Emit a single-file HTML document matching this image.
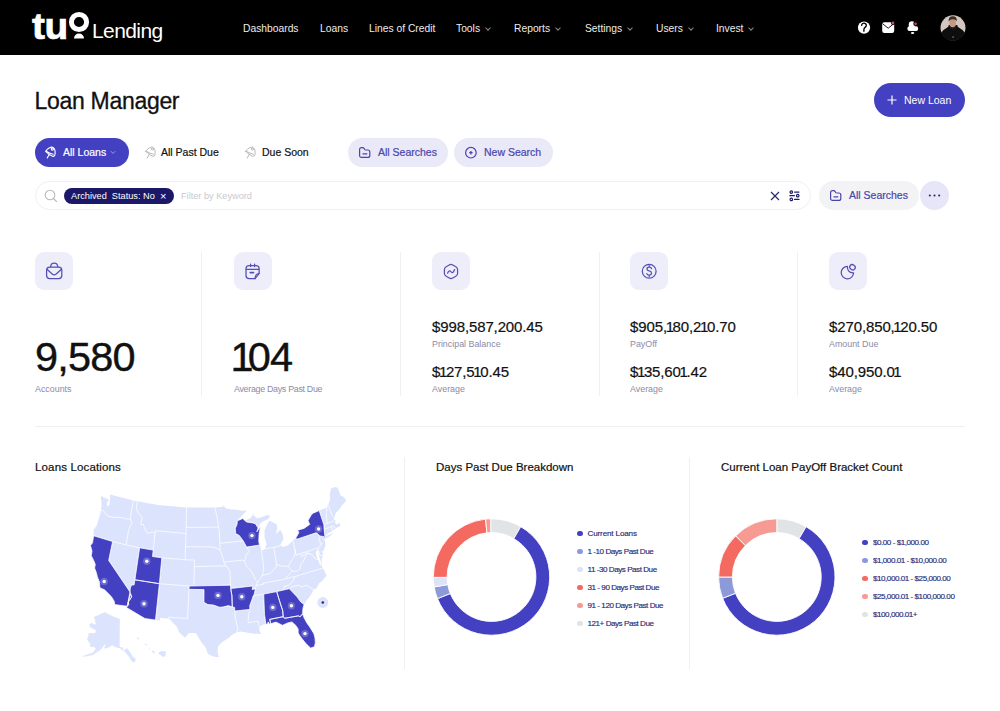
<!DOCTYPE html>
<html><head><meta charset="utf-8">
<style>
*{margin:0;padding:0;box-sizing:border-box}
html,body{width:1000px;height:711px;overflow:hidden;background:#fff;font-family:"Liberation Sans",Arial,sans-serif;color:#111}
.a{position:absolute;white-space:nowrap}
#hdr{position:absolute;left:0;top:0;width:1000px;height:55px;background:#000}
.nav{position:absolute;top:22px;font-size:10.3px;color:#ececec;line-height:14px}
.chev{display:inline-block;width:4px;height:4px;border-right:1px solid #888;border-bottom:1px solid #888;transform:rotate(45deg);margin-left:6px;position:relative;top:-2px}
.pill{position:absolute;border-radius:15px;font-size:10.5px;line-height:29px;height:29px;-webkit-text-stroke:0.2px currentColor}
.sicon{position:absolute;width:38px;height:38px;border-radius:9px;background:#eeedfa}
.sicon svg{position:absolute;left:0;top:0}
.big{position:absolute;font-size:41.5px;letter-spacing:-0.8px;color:#111;-webkit-text-stroke:0.4px #111;line-height:40px}
.amt{position:absolute;font-size:15px;color:#111;-webkit-text-stroke:0.2px #111;line-height:16px;letter-spacing:-0.12px}
.o{margin:0 -1.3px}
.o2{margin:0 -5px 0 -1.5px}
.lbl{position:absolute;font-size:8.9px;color:#8c8aa8;line-height:10px}
.vdiv{position:absolute;width:1px;background:#f0f0f3}
.ctitle{position:absolute;font-size:11.5px;color:#111;-webkit-text-stroke:0.2px #111;line-height:14px}
.lg{position:absolute;font-size:8.1px;color:#2b2870;line-height:11px;letter-spacing:-0.47px;-webkit-text-stroke:0.15px #2b2870}
.lg i{position:absolute;left:-10.6px;top:2.7px;width:5.6px;height:5.6px;border-radius:50%}
</style></head><body>
<div id="hdr">
  <!-- logo -->
  <div class="a" style="left:31.5px;top:6.5px;font-size:37px;font-weight:bold;color:#fff;letter-spacing:-0.3px;line-height:40px;transform:scaleX(1.05);transform-origin:0 0;-webkit-text-stroke:0.7px #fff">tu</div>
  <svg class="a" style="left:68px;top:11px" width="22" height="29" viewBox="0 0 22 29">
    <circle cx="11" cy="11" r="7.6" fill="none" stroke="#fff" stroke-width="5"/>
    <path d="M6,27.6 A5,5 0 0 1 16,27.6 Z" fill="#fff"/>
  </svg>
  <div class="a" style="left:92px;top:18px;font-size:21px;color:#fff;letter-spacing:-0.6px;line-height:26px">Lending</div>
  <div class="nav" style="left:243px">Dashboards</div>
  <div class="nav" style="left:320px">Loans</div>
  <div class="nav" style="left:369px">Lines of Credit</div>
  <div class="nav" style="left:456px">Tools<span class="chev"></span></div>
  <div class="nav" style="left:514px">Reports<span class="chev"></span></div>
  <div class="nav" style="left:585px">Settings<span class="chev"></span></div>
  <div class="nav" style="left:656px">Users<span class="chev"></span></div>
  <div class="nav" style="left:716px">Invest<span class="chev"></span></div>
  <!-- icons -->
  <svg class="a" style="left:850px;top:15px" width="80" height="25" viewBox="850 15 80 25">
    <circle cx="864" cy="27.6" r="6.1" fill="#fff"/>
    <path d="M861.7,25.4 A2.3,2.2 0 1 1 865.6,26.9 C864.4,27.7 863.9,28.2 863.9,29.4 L863.9,31.2" fill="none" stroke="#000" stroke-width="1.35" stroke-linecap="round"/>
    <rect x="882.2" y="22.2" width="12" height="10.8" rx="2.2" fill="#fff"/>
    <path d="M882.7,23.8 L888.2,28.2 L893.6,23.8" fill="none" stroke="#000" stroke-width="0.9" stroke-linejoin="round"/>
    <circle cx="893" cy="22.9" r="2" fill="#000"/><circle cx="893" cy="22.9" r="1.3" fill="#e0467a"/>
    <rect x="908.8" y="21.3" width="6.2" height="7" rx="3" fill="#fff"/>
    <rect x="907.4" y="26.2" width="10.7" height="4.7" rx="2" fill="#fff"/>
    <ellipse cx="912.6" cy="33" rx="1.7" ry="0.9" fill="#fff"/>
    <circle cx="915.6" cy="23.8" r="2.3" fill="#000"/><circle cx="915.6" cy="23.8" r="1.4" fill="#d8366a"/>
  </svg>
  <svg class="a" style="left:938px;top:13px" width="30" height="30" viewBox="938 13 30 30">
    <defs><clipPath id="avc"><circle cx="953" cy="27.8" r="13"/></clipPath></defs>
    <circle cx="953" cy="27.8" r="12.5" fill="#d3c7c1"/>
    <g clip-path="url(#avc)">
      <path d="M940,34 Q943,29.5 948,27 L949,25 L957,25 L958,27 Q963,29.5 966,34 L966,43 L940,43 Z" fill="#0e0e0e"/>
      <path d="M948.5,25.5 L957.5,25.5 L955.5,29.5 L950.5,29.5 Z" fill="#1c1a19"/>
      <ellipse cx="952.7" cy="23" rx="3.3" ry="4.3" fill="#c39a84"/>
      <path d="M948.6,21.5 Q948.3,16.3 952.8,16.3 Q957.2,16.3 956.8,21.2 Q955.5,19 952.6,19.2 Q950,19.3 948.6,21.5 Z" fill="#3e2b23"/>
      <rect x="952.4" y="36.4" width="1.3" height="1.3" fill="#888"/>
    </g>
  </svg>
</div>

<div class="a" style="left:34.5px;top:86.5px;font-size:23px;color:#111;line-height:28px;letter-spacing:-0.3px;-webkit-text-stroke:0.3px #111">Loan Manager</div>
<div class="a" style="left:874px;top:83px;width:91px;height:34px;border-radius:17px;background:#4341c2;color:#fff;font-size:10.5px;line-height:34px">
  <svg class="a" style="left:13px;top:12px" width="10" height="10" viewBox="0 0 10 10"><path d="M5,0.5V9.5M0.5,5H9.5" stroke="#fff" stroke-width="1.2"/></svg>
  <span class="a" style="left:30px">New Loan</span>
</div>

<!-- filter row -->
<div class="pill" style="left:35px;top:138px;width:94px;background:#4341c2;color:#fff">
  <span class="a" style="left:28px">All Loans</span>
  <svg class="a" style="left:75px;top:12px" width="6" height="5" viewBox="0 0 6 5"><path d="M0.8,1.2 L3,3.4 L5.2,1.2" fill="none" stroke="#a9a6ea" stroke-width="0.9"/></svg>
</div>
<svg class="a" style="left:40px;top:142px" width="20" height="20" viewBox="0 0 20 20"><g fill="none" stroke="#fff" stroke-width="1.15" stroke-linejoin="round" stroke-linecap="round"><path d="M5.6,9.3 Q7.5,6.8 9.5,5.8 Q11.5,4.8 12.6,5.2 Q14.6,6 15,8.5 Q15.3,11 14.9,12.9 Q14.3,14.8 12.6,14.3 Q9,12.6 5.6,9.3 Z"/><path d="M6.6,9.4 Q10,11.6 13.3,12.2"/><circle cx="12.4" cy="7" r="1.1"/><path d="M9.3,12.4 L7.2,16"/></g></svg>
<div class="a" style="left:161px;top:138px;font-size:10.5px;line-height:29px;color:#111;-webkit-text-stroke:0.2px #111">All Past Due</div>
<svg class="a" style="left:140px;top:142px" width="20" height="20" viewBox="0 0 20 20"><g fill="none" stroke="#b9b9bd" stroke-width="1.0" stroke-linejoin="round" stroke-linecap="round"><path d="M5.6,9.3 Q7.5,6.8 9.5,5.8 Q11.5,4.8 12.6,5.2 Q14.6,6 15,8.5 Q15.3,11 14.9,12.9 Q14.3,14.8 12.6,14.3 Q9,12.6 5.6,9.3 Z"/><path d="M6.6,9.4 Q10,11.6 13.3,12.2"/><circle cx="12.4" cy="7" r="1.1"/><path d="M9.3,12.4 L7.2,16"/></g></svg>
<div class="a" style="left:262px;top:138px;font-size:10.5px;line-height:29px;color:#111;-webkit-text-stroke:0.2px #111">Due Soon</div>
<svg class="a" style="left:240px;top:142px" width="20" height="20" viewBox="0 0 20 20"><g fill="none" stroke="#b9b9bd" stroke-width="1.0" stroke-linejoin="round" stroke-linecap="round"><path d="M5.6,9.3 Q7.5,6.8 9.5,5.8 Q11.5,4.8 12.6,5.2 Q14.6,6 15,8.5 Q15.3,11 14.9,12.9 Q14.3,14.8 12.6,14.3 Q9,12.6 5.6,9.3 Z"/><path d="M6.6,9.4 Q10,11.6 13.3,12.2"/><circle cx="12.4" cy="7" r="1.1"/><path d="M9.3,12.4 L7.2,16"/></g></svg>
<div class="pill" style="left:348px;top:138px;width:100px;background:#e9e9f7;color:#4a45ad">
  <svg class="a" style="left:10px;top:8px" width="14" height="14" viewBox="0 0 14 14"><g fill="none" stroke="#4a45ad" stroke-width="1.2" stroke-linejoin="round" stroke-linecap="round"><path d="M1.6,3.6 Q1.6,1.6 3.6,1.6 L4.6,1.6 Q5.5,1.6 6,2.4 L6.5,3.2 Q7,4 7.9,4 L9.8,4 Q11.8,4 11.8,6 L11.8,9.4 Q11.8,11.4 9.8,11.4 L3.6,11.4 Q1.6,11.4 1.6,9.4 Z"/><path d="M5,7.85 H8.8" stroke-width="1.4"/></g></svg>
  <span class="a" style="left:30px">All Searches</span>
</div>
<div class="pill" style="left:454px;top:138px;width:99px;background:#e9e9f7;color:#4a45ad">
  <svg class="a" style="left:10px;top:8px" width="14" height="14" viewBox="0 0 14 14"><circle cx="6.9" cy="6.7" r="5.3" fill="none" stroke="#4a45ad" stroke-width="1.2"/><path d="M5.2,6.7 H8.6 M6.9,5 V8.4" stroke="#4a45ad" stroke-width="1.3"/></svg>
  <span class="a" style="left:30px">New Search</span>
</div>

<!-- search row -->
<div class="a" style="left:35px;top:181px;width:776px;height:29px;border-radius:15px;border:1px solid #f0f0f3;background:#fff"></div>
<svg class="a" style="left:44px;top:189px" width="14" height="14" viewBox="0 0 14 14"><circle cx="6" cy="6" r="4.8" fill="none" stroke="#b8b8bc" stroke-width="1.1"/><path d="M9.5,9.5 L12.5,12.5" stroke="#b8b8bc" stroke-width="1.1" stroke-linecap="round"/></svg>
<div class="a" style="left:64px;top:188px;width:110px;height:16px;border-radius:8px;background:#1b1868;color:#fff;font-size:9.2px;line-height:16px;padding-left:7px">Archived&nbsp; Status: No<span class="a" style="left:96px;top:0;font-size:11px">×</span></div>
<div class="a" style="left:181px;top:190px;font-size:9.2px;color:#c9c9cf;line-height:12px">Filter by Keyword</div>
<svg class="a" style="left:770px;top:191px" width="10" height="10" viewBox="0 0 10 10"><path d="M1,1 L9,9 M9,1 L1,9" stroke="#2a2870" stroke-width="1.2"/></svg>
<svg class="a" style="left:788px;top:189px" width="13" height="13" viewBox="0 0 13 13"><g stroke="#1f1c66" stroke-width="1.2" fill="none" stroke-linecap="round"><path d="M6.6,3.1 H11 M1.9,6.7 H6.4 M6.6,10.4 H11"/><circle cx="3.3" cy="3.1" r="1.25"/><circle cx="9.7" cy="6.7" r="1.25"/><circle cx="3.3" cy="10.4" r="1.25"/></g></svg>
<div class="pill" style="left:819px;top:181px;width:100px;background:#f3f3f6;color:#4a45ad">
  <svg class="a" style="left:10px;top:8px" width="14" height="14" viewBox="0 0 14 14"><g fill="none" stroke="#4a45ad" stroke-width="1.2" stroke-linejoin="round" stroke-linecap="round"><path d="M1.6,3.6 Q1.6,1.6 3.6,1.6 L4.6,1.6 Q5.5,1.6 6,2.4 L6.5,3.2 Q7,4 7.9,4 L9.8,4 Q11.8,4 11.8,6 L11.8,9.4 Q11.8,11.4 9.8,11.4 L3.6,11.4 Q1.6,11.4 1.6,9.4 Z"/><path d="M5,7.85 H8.8" stroke-width="1.4"/></g></svg>
  <span class="a" style="left:30px">All Searches</span>
</div>
<div class="a" style="left:920px;top:181px;width:29px;height:29px;border-radius:50%;background:#e7e6f8">
  <svg class="a" style="left:8px;top:13px" width="13" height="3" viewBox="0 0 13 3"><circle cx="1.8" cy="1.5" r="1.05" fill="#2a2870"/><circle cx="6.5" cy="1.5" r="1.05" fill="#2a2870"/><circle cx="11.2" cy="1.5" r="1.05" fill="#2a2870"/></svg>
</div>

<!-- STATS -->
<div class="sicon" style="left:35px;top:252px"><svg width="38" height="38" viewBox="0 0 38 38"><g fill="none" stroke="#5550b4" stroke-width="1.25" stroke-linejoin="round" stroke-linecap="round"><path d="M11.6,18.2 Q11.6,15 14.5,15 L23.8,15 Q26.8,15 26.8,18.2 L26.8,23.5 Q26.8,26.5 23.8,26.5 L14.6,26.5 Q11.6,26.5 11.6,23.5 Z"/><path d="M12,17.3 L17.2,22 Q19.2,23.6 21.2,22 L26.4,17.3"/><path d="M15.6,15 Q15.8,11.1 19.2,11.1 Q22.6,11.1 22.8,15"/></g></svg></div>
<div class="sicon" style="left:234px;top:252px"><svg width="38" height="38" viewBox="0 0 38 38"><g fill="none" stroke="#5550b4" stroke-width="1.25" stroke-linejoin="round" stroke-linecap="round"><path d="M25.1,21.5 L25.1,16.6 Q25.1,13.5 22,13.5 L15.1,13.5 Q12,13.5 12,16.6 L12,23.6 Q12,26.7 15.1,26.7 L21,26.7 Z"/><path d="M16.6,12 V14.6 M20.6,12 V14.6 M12.3,17.4 H24.8"/><path d="M16.2,20.6 H19.6" stroke-width="1.6"/><path d="M25.1,21.5 Q21,22 21,26.7"/></g></svg></div>
<div class="sicon" style="left:432px;top:252px"><svg width="38" height="38" viewBox="0 0 38 38"><g fill="none" stroke="#5550b4" stroke-width="1.25" stroke-linejoin="round" stroke-linecap="round"><path d="M17.26,12.98 Q19.00,12.00 20.74,12.98 L23.86,14.72 Q25.60,15.70 25.60,17.70 L25.60,21.30 Q25.60,23.30 23.86,24.28 L20.74,26.02 Q19.00,27.00 17.26,26.02 L14.14,24.28 Q12.40,23.30 12.40,21.30 L12.40,17.70 Q12.40,15.70 14.14,14.72 Z"/><path d="M15.6,21.2 Q16.5,18.6 17.7,18.8 Q18.6,19 19.4,20.2 Q20.3,21.2 21.2,20.2 L22.6,17.6"/></g></svg></div>
<div class="sicon" style="left:630px;top:252px"><svg width="38" height="38" viewBox="0 0 38 38"><g fill="none" stroke="#5550b4" stroke-width="1.25" stroke-linejoin="round" stroke-linecap="round"><circle cx="19.2" cy="19.2" r="6.9"/><path d="M21.6,16.6 Q21.2,15.1 19.2,15.1 Q17,15.1 17,16.9 Q17,18.4 19.2,18.9 Q21.5,19.4 21.5,21.2 Q21.5,23 19.2,23 Q17.2,23 16.8,21.6 M19.2,13.7 V15.1 M19.2,23 V24.6"/></g></svg></div>
<div class="sicon" style="left:829px;top:252px"><svg width="38" height="38" viewBox="0 0 38 38"><g fill="none" stroke="#5550b4" stroke-width="1.25" stroke-linejoin="round" stroke-linecap="round"><path d="M18.4,14.4 A6.2,6.2 0 1 0 24.6,20.8 Q21,21 19.6,18.8 Q18.2,16.8 18.4,14.4 Z"/><ellipse cx="23.5" cy="15.3" rx="2.9" ry="2.5" transform="rotate(35 23.5 15.3)"/></g></svg></div>

<div class="big" style="left:35px;top:337px">9,580</div>
<div class="lbl" style="left:35px;top:384px">Accounts</div>
<div class="big" style="left:232px;top:337px"><span class="o2">1</span>04</div>
<div class="lbl" style="left:234px;top:384px;letter-spacing:-0.3px">Average Days Past Due</div>

<div class="amt" style="left:432px;top:319px">$998,587,200.45</div>
<div class="lbl" style="left:432px;top:339px">Principal Balance</div>
<div class="amt" style="left:432px;top:364px">$<span class="o">1</span>27,5<span class="o">1</span>0.45</div>
<div class="lbl" style="left:432px;top:384px">Average</div>

<div class="amt" style="left:630px;top:319px">$905,<span class="o">1</span>80,2<span class="o">1</span>0.70</div>
<div class="lbl" style="left:630px;top:339px">PayOff</div>
<div class="amt" style="left:630px;top:364px">$<span class="o">1</span>35,60<span class="o">1</span>.42</div>
<div class="lbl" style="left:630px;top:384px">Average</div>

<div class="amt" style="left:829px;top:319px">$270,850,<span class="o">1</span>20.50</div>
<div class="lbl" style="left:829px;top:339px">Amount Due</div>
<div class="amt" style="left:829px;top:364px">$40,950.0<span class="o">1</span></div>
<div class="lbl" style="left:829px;top:384px">Average</div>

<div class="vdiv" style="left:201px;top:252px;height:144px"></div>
<div class="vdiv" style="left:400px;top:252px;height:144px"></div>
<div class="vdiv" style="left:599px;top:252px;height:144px"></div>
<div class="vdiv" style="left:797px;top:252px;height:144px"></div>
<div class="a" style="left:35px;top:426px;width:930px;height:1px;background:#efeff2"></div>


<!-- CHARTS -->
<div class="ctitle" style="left:35px;top:460px;letter-spacing:0.15px">Loans Locations</div>
<div class="ctitle" style="left:436px;top:460px">Days Past Due Breakdown</div>
<div class="ctitle" style="left:721px;top:460px">Current Loan PayOff Bracket Count</div>
<div class="vdiv" style="left:404px;top:457px;height:212px"></div>
<div class="vdiv" style="left:689px;top:457px;height:212px"></div>
<!--MAP--><svg class="a" style="left:0;top:0" width="1000" height="711" viewBox="0 0 1000 711">
<path d="M101.2,495.7L100.9,498.1L101.4,501.6L101.6,505.6L100.9,509.7L100.2,514.5L98.4,519.9L96.7,525.4L93.6,530.0L93.8,535.8L93.1,538.9L92.6,542.8L90.5,545.4L92.0,551.2L91.3,555.7L93.7,560.5L95.3,564.4L94.6,568.1L96.4,572.7L97.4,577.0L99.6,582.3L99.8,587.0L100.4,588.1L104.5,589.7L108.0,593.2L109.7,595.0L111.5,596.8L114.3,601.4L114.6,604.6L127.2,606.2L126.5,607.6L144.9,618.5L155.5,620.1L160.0,620.6L160.3,617.7L169.1,618.7L171.7,621.4L176.7,626.6L179.0,632.2L185.2,637.7L188.7,633.0L195.8,633.1L201.5,642.6L205.8,647.7L207.9,654.0L214.1,656.8L218.9,657.3L217.5,651.9L218.1,646.2L221.9,642.2L228.5,638.0L232.2,634.8L236.8,632.2L240.3,631.4L245.2,632.3L250.8,633.3L256.9,633.8L261.3,634.1L259.4,630.8L259.5,626.4L262.7,624.8L265.9,624.1L267.5,624.3L268.1,621.9L269.4,624.0L270.7,623.7L276.0,622.1L282.5,625.3L287.7,622.9L292.0,621.9L295.9,625.5L298.1,628.9L298.2,632.8L299.8,635.7L302.7,639.5L305.7,643.3L310.6,648.1L314.5,646.7L315.3,642.6L315.0,638.1L313.9,633.8L309.8,627.1L306.7,622.7L304.2,618.1L302.6,613.9L302.9,608.5L304.1,604.5L306.4,600.8L311.1,594.7L313.5,589.6L316.7,588.2L318.8,583.4L322.5,580.8L326.6,575.6L323.0,568.0L321.6,566.1L321.7,559.1L323.4,554.7L322.6,552.6L320.7,551.2L323.1,551.5L325.6,545.2L324.8,540.3L324.3,539.4L325.4,539.0L330.9,535.4L333.0,532.6L329.6,534.6L325.3,536.2L328.2,533.3L332.7,531.0L334.5,529.3L335.6,528.4L337.6,527.2L340.4,526.0L339.6,522.8L336.9,524.4L334.9,522.8L335.6,520.3L334.2,519.4L334.3,517.9L335.3,513.7L339.6,508.9L342.1,505.2L345.6,501.3L346.2,499.8L342.4,496.0L340.8,496.1L337.7,487.8L335.1,487.1L331.9,487.9L331.2,488.2L329.7,494.3L330.1,499.7L328.2,504.8L327.0,507.4L319.2,510.6L313.6,512.9L311.3,514.8L308.1,520.5L309.7,524.4L304.0,528.4L297.6,530.2L298.9,532.5L296.0,537.7L292.9,540.6L288.2,545.2L283.8,546.7L280.0,545.8L281.2,543.3L283.3,539.0L283.1,536.4L282.0,532.6L280.1,530.0L275.8,534.2L277.2,529.1L276.8,524.5L269.9,520.8L268.7,521.7L266.6,525.5L264.5,530.6L264.6,537.3L266.6,544.3L264.7,548.9L263.0,550.3L261.4,550.0L260.9,548.7L259.5,545.0L258.8,541.8L258.9,537.1L259.2,533.0L260.5,526.4L258.5,529.5L256.8,531.8L258.1,527.9L260.1,523.5L262.9,521.6L268.2,519.1L270.3,515.9L267.5,514.9L263.0,516.6L257.6,518.6L254.7,516.5L252.6,513.6L254.2,513.0L250.6,517.9L244.8,520.4L242.8,518.5L238.3,520.4L237.4,520.2L241.7,516.0L247.0,510.5L242.0,510.7L236.8,509.7L229.2,509.2L225.4,508.3L223.2,504.4L223.4,506.8L214.8,507.4L186.6,507.5L157.9,504.9L137.2,501.3L133.2,500.5L110.0,494.4L110.1,499.0L109.2,505.4L106.9,506.0L107.1,502.7L109.0,500.0L107.1,498.8L103.9,497.7L101.2,495.7Z" fill="#dce4fd"/>
<path d="M119.8,619.0L119.6,646.7L122.3,647.6L124.4,650.5L126.8,648.0L129.9,651.8L133.0,657.1L135.4,658.5L135.6,660.3L134.4,662.3L132.1,661.7L129.5,657.6L127.3,654.8L125.8,652.8L123.0,650.2L120.3,648.5L116.8,647.5L114.1,646.4L112.1,645.1L109.9,646.9L106.9,648.0L104.2,648.4L105.5,644.1L107.6,643.0L104.6,644.6L102.7,647.2L100.7,649.8L97.2,652.0L92.5,655.3L89.0,655.8L85.5,656.4L81.9,656.6L85.0,655.3L88.7,654.1L93.2,652.4L95.8,648.6L94.6,647.3L91.6,647.0L89.5,646.5L90.4,643.7L88.2,641.3L87.0,639.2L88.4,636.6L88.4,633.4L91.1,632.9L95.1,632.9L95.9,630.3L93.7,629.2L90.0,627.0L89.2,623.8L92.1,623.2L95.8,624.7L95.4,621.7L94.5,618.5L93.6,617.0L98.3,615.3L100.9,613.8L105.5,612.0L107.3,613.8L109.6,614.6L112.2,615.9L116.0,617.5Z" fill="#dce4fd"/>
<path d="" fill="none" stroke="#dce4fd" stroke-width="1.2"/>
<path d="M158.0,653.3L163.1,657.0L165.5,656.0L165.8,651.2L160.6,651.2ZM151.7,650.9L154.6,654.2L154.8,651.5L152.6,650.5ZM148.8,648.2L150.6,651.4L149.4,648.0ZM144.1,643.8L147.3,646.3L146.3,644.1ZM136.9,637.3L138.1,640.0L139.4,638.1Z" fill="#dce4fd"/>
<path d="M321.5,565.7L319.4,564.1L318.3,559.7L316.4,556.2L315.9,552.3L317.3,549.7L318.7,551.3L318.7,555.4L320.3,559.6L321.1,564.2Z" fill="#fff"/>
<path d="M100.9,509.7L104.3,511.5L105.6,513.6L107.8,516.2L112.1,517.1L115.1,517.6L119.2,517.3L121.8,517.8L130.7,519.6M133.2,500.5L130.6,516.7L130.7,519.6M130.7,519.6L132.0,523.2L130.2,526.1L128.6,530.3L128.0,533.5L126.0,544.9M93.8,535.8L112.6,541.5L126.0,544.9L139.6,547.8L153.2,550.1M112.6,541.5L108.7,560.4L130.0,591.9M134.9,579.8L139.6,547.8M134.9,579.8L159.4,583.7L189.2,586.1L193.9,586.2L230.5,585.2M159.4,583.7L155.5,620.1M159.4,583.7L161.8,557.8M161.8,557.8L152.5,556.5L153.2,550.1M153.2,550.1L154.9,533.9L153.6,532.1L147.2,533.3L144.6,528.3L143.4,524.5L140.7,524.6L142.1,517.7L138.0,512.6L136.3,507.8L137.2,501.3M154.9,533.9L155.3,530.7L186.0,533.6M161.8,557.8L185.1,559.7L194.4,560.1M186.6,507.5L186.0,533.6L185.1,559.7M194.4,560.1L194.3,566.6L193.9,586.2M189.2,586.1L189.0,589.3L187.5,618.5L168.8,617.2L169.1,618.7M189.0,589.3L204.0,589.6L203.9,602.3L207.9,604.6L213.6,605.1L219.3,607.2L222.9,607.0L228.5,605.6L232.3,607.0M230.5,585.2L230.7,588.5L231.9,595.6L232.3,607.0M186.1,527.4L218.6,527.2M185.6,546.7L210.7,546.9L215.3,547.7L219.5,549.8L220.2,549.8M194.3,566.6L226.2,565.8M214.8,507.4L217.1,517.1L218.6,527.2L219.3,531.4L219.9,543.2L220.2,549.8M219.9,543.2L243.3,540.9M220.2,549.8L222.0,555.6L223.4,559.4L223.9,562.1L226.2,565.8L229.9,571.1L230.5,585.2M223.9,562.1L242.8,560.1L244.5,561.3M237.4,520.2L237.0,524.5L235.3,528.3L235.6,533.6L239.3,535.5L243.3,540.9M243.3,540.9L246.6,547.1L249.3,551.3L246.2,554.5L245.6,558.2L244.5,561.3L246.8,566.3L251.2,571.0L254.2,576.8L255.6,580.3L257.5,581.9M246.6,547.1L259.5,545.0M244.8,520.4L246.3,521.9L252.5,522.9L255.3,523.7L258.1,527.9M261.4,550.0L263.5,565.3L263.7,569.6L262.6,574.4L262.0,575.9M257.5,581.9L260.6,578.4L262.0,575.9L264.8,574.7L269.7,573.8L272.7,570.8L276.9,566.2L276.5,564.3L282.4,566.3L287.9,566.2M257.5,581.9L256.1,585.5L255.4,588.9M255.4,588.9L252.1,589.4L252.9,586.0L230.7,588.5M255.4,588.9L254.0,595.0L253.1,595.9L251.9,599.9L249.8,605.5L249.8,609.4L248.6,614.7L248.2,619.4L248.2,622.6M249.8,609.4L234.8,611.0M234.8,611.0L234.6,607.4L232.3,607.0M234.8,611.0L235.1,617.5L236.7,623.8L237.9,628.2L236.8,632.2M248.2,622.6L258.4,621.2L258.5,624.5L259.5,626.4M263.7,594.1L264.5,614.4L265.9,624.1M253.1,595.9L263.7,594.1L276.7,591.6L283.3,590.2L289.3,588.7M276.7,591.6L280.8,605.0L282.6,610.2L283.2,616.7M283.2,616.7L269.7,619.4L270.7,623.7M283.2,616.7L284.6,618.3L298.7,615.8L299.8,617.0L302.6,613.9M289.3,588.7L292.4,591.9L297.0,596.8L300.6,601.8L304.1,604.5M289.3,588.7L293.0,586.4L299.3,585.1L300.2,585.8L301.0,586.9L306.5,585.3L313.5,589.6M256.1,585.5L263.3,584.3L262.9,583.2L284.6,579.2L294.5,576.7M283.3,590.2L284.2,586.6L288.7,585.2L293.5,580.3L294.5,576.7M294.5,576.7L323.0,568.0M284.6,579.2L288.0,575.6L292.0,571.2L287.9,566.2M273.8,547.4L276.5,564.3M264.7,548.9L273.8,547.4L280.0,545.8M287.9,566.2L289.5,564.5L291.3,560.6L294.0,557.1L295.2,553.4L294.8,549.2M294.8,549.2L292.9,540.6M294.8,549.2L296.0,555.1L300.8,553.6L301.6,557.0L306.5,552.7L309.7,553.7M292.0,571.2L297.4,571.1L300.0,569.0L301.0,564.0L303.4,561.2L304.7,558.0L306.8,554.0L309.7,553.7M309.7,553.7L313.1,555.3L314.4,558.3L318.3,559.7M300.8,553.6L317.8,548.0L319.5,546.8M317.8,548.0L320.1,555.9L323.4,554.7M296.0,537.7L296.3,539.4L316.0,532.8L317.4,533.4L320.0,535.9M320.0,535.9L319.1,539.7L320.5,543.0L321.8,543.2L319.5,546.8M320.0,535.9L324.2,536.7M324.8,535.7L324.1,529.4L323.8,524.6L319.2,510.6M324.1,529.4L331.6,526.5L333.4,525.7L335.6,528.4M331.6,526.5L332.7,531.0M323.8,524.6L327.4,523.3L332.4,521.4L334.2,519.4M327.4,523.3L326.4,517.6L326.3,512.7L327.0,507.4M334.3,517.9L332.1,515.2L328.2,504.8" fill="none" stroke="#fff" stroke-width="0.75" stroke-linejoin="round"/>
<path d="M93.8,535.8L93.1,538.9L92.6,542.8L90.5,545.4L92.0,551.2L91.3,555.7L93.7,560.5L95.3,564.4L94.6,568.1L96.4,572.7L97.4,577.0L99.6,582.3L99.8,587.0L100.4,588.1L104.5,589.7L108.0,593.2L109.7,595.0L111.5,596.8L114.3,601.4L114.6,604.6L127.2,606.2L128.6,604.7L128.3,602.0L129.4,600.3L131.7,596.8L130.6,594.0L130.0,591.9L108.7,560.4L112.6,541.5ZM130.0,591.9L130.3,588.0L131.6,585.0L134.1,584.9L134.9,579.8L159.4,583.7L155.5,620.1L144.9,618.5L126.5,607.6L127.2,606.2L130.6,594.0L131.7,596.8L129.4,600.3L128.3,602.0L128.6,604.7L127.2,606.2ZM139.6,547.8L153.2,550.1L152.5,556.5L161.8,557.8L159.4,583.7L134.9,579.8ZM189.2,586.1L230.5,585.2L230.7,588.5L231.9,595.6L232.3,607.0L228.5,605.6L222.9,607.0L219.3,607.2L213.6,605.1L207.9,604.6L203.9,602.3L204.0,589.6L189.0,589.3ZM230.7,588.5L252.9,586.0L252.1,589.4L255.4,588.9L254.0,595.0L253.1,595.9L251.9,599.9L249.8,605.5L249.8,609.4L234.8,611.0L234.6,607.4L232.3,607.0L231.9,595.6ZM263.7,594.1L276.7,591.6L280.8,605.0L282.6,610.2L283.2,616.7L269.7,619.4L270.7,623.7L269.4,624.0L268.1,621.9L267.5,624.3L265.9,624.1L264.5,614.4ZM276.7,591.6L289.3,588.7L292.4,591.9L297.0,596.8L300.6,601.8L304.1,604.5L302.9,608.5L302.6,613.9L299.8,617.0L298.7,615.8L284.6,618.3L283.2,616.7L282.6,610.2L280.8,605.0ZM269.7,619.4L283.2,616.7L284.6,618.3L298.7,615.8L299.8,617.0L302.6,613.9L304.2,618.1L306.7,622.7L309.8,627.1L313.9,633.8L315.0,638.1L315.3,642.6L314.5,646.7L310.6,648.1L305.7,643.3L302.7,639.5L299.8,635.7L298.2,632.8L298.1,628.9L295.9,625.5L292.0,621.9L287.7,622.9L282.5,625.3L276.0,622.1L270.7,623.7ZM237.4,520.2L238.3,520.4L242.8,518.5L244.8,520.4L246.3,521.9L252.5,522.9L255.3,523.7L258.1,527.9L256.8,531.8L258.5,529.5L260.5,526.4L259.2,533.0L258.9,537.1L258.8,541.8L259.5,545.0L246.6,547.1L243.3,540.9L239.3,535.5L235.6,533.6L235.3,528.3L237.0,524.5ZM296.3,539.4L316.0,532.8L317.4,533.4L320.0,535.9L324.2,536.7L324.5,539.4L325.2,537.4L324.8,535.7L324.1,529.4L323.8,524.6L319.2,510.6L313.6,512.9L311.3,514.8L308.1,520.5L309.7,524.4L304.0,528.4L297.6,530.2L298.9,532.5L296.0,537.7Z" fill="#4340c2" stroke="#fff" stroke-width="0.75" stroke-linejoin="round"/>
<circle cx="104.2" cy="581.5" r="3.7" fill="#fff" fill-opacity="0.22"/><circle cx="104.2" cy="581.5" r="1.7" fill="#fff"/><circle cx="144" cy="603.8" r="3.7" fill="#fff" fill-opacity="0.22"/><circle cx="144" cy="603.8" r="1.7" fill="#fff"/><circle cx="146.8" cy="561.3" r="3.7" fill="#fff" fill-opacity="0.22"/><circle cx="146.8" cy="561.3" r="1.7" fill="#fff"/><circle cx="218" cy="595.4" r="3.7" fill="#fff" fill-opacity="0.22"/><circle cx="218" cy="595.4" r="1.7" fill="#fff"/><circle cx="241.8" cy="596.8" r="3.7" fill="#fff" fill-opacity="0.22"/><circle cx="241.8" cy="596.8" r="1.7" fill="#fff"/><circle cx="272.8" cy="607.4" r="3.7" fill="#fff" fill-opacity="0.22"/><circle cx="272.8" cy="607.4" r="1.7" fill="#fff"/><circle cx="291.4" cy="605.8" r="3.7" fill="#fff" fill-opacity="0.22"/><circle cx="291.4" cy="605.8" r="1.7" fill="#fff"/><circle cx="305" cy="633.6" r="3.7" fill="#fff" fill-opacity="0.22"/><circle cx="305" cy="633.6" r="1.7" fill="#fff"/><circle cx="251.9" cy="535.6" r="3.7" fill="#fff" fill-opacity="0.22"/><circle cx="251.9" cy="535.6" r="1.7" fill="#fff"/><circle cx="318.6" cy="529" r="3.7" fill="#fff" fill-opacity="0.22"/><circle cx="318.6" cy="529" r="1.7" fill="#fff"/>
<circle cx="322.8" cy="602.5" r="5.4" fill="#dce4fd"/><circle cx="322.8" cy="602.5" r="1.3" fill="#2a2870"/>
</svg><!--/MAP-->
<!--DONUT--><svg class="a" style="left:0;top:0" width="1000" height="711"><g stroke="#fff" stroke-width="0.9"><path d="M490.59,518.81A58.2,58.2 0 0 1 520.78,526.70L513.83,538.63A44.4,44.4 0 0 0 490.80,532.61Z" fill="#e0e4e7"/><path d="M520.78,526.70A58.2,58.2 0 1 1 437.46,598.61L450.28,593.49A44.4,44.4 0 1 0 513.83,538.63Z" fill="#4340c2"/><path d="M437.46,598.61A58.2,58.2 0 0 1 434.15,586.91L447.75,584.56A44.4,44.4 0 0 0 450.28,593.49Z" fill="#8d9ad9"/><path d="M434.15,586.91A58.2,58.2 0 0 1 433.30,577.41L447.10,577.31A44.4,44.4 0 0 0 447.75,584.56Z" fill="#dce3f8"/><path d="M433.30,577.41A58.2,58.2 0 0 1 485.52,519.11L486.94,532.84A44.4,44.4 0 0 0 447.10,577.31Z" fill="#f56a60"/><path d="M485.52,519.11A58.2,58.2 0 0 1 490.59,518.81L490.80,532.61A44.4,44.4 0 0 0 486.94,532.84Z" fill="#f79a94"/></g><g stroke="#fff" stroke-width="0.9"><path d="M776.80,518.80A58.2,58.2 0 0 1 806.08,526.70L799.13,538.63A44.4,44.4 0 0 0 776.80,532.60Z" fill="#e0e4e7"/><path d="M806.08,526.70A58.2,58.2 0 1 1 722.65,598.33L735.49,593.27A44.4,44.4 0 1 0 799.13,538.63Z" fill="#4340c2"/><path d="M722.65,598.33A58.2,58.2 0 0 1 718.60,577.00L732.40,577.00A44.4,44.4 0 0 0 735.49,593.27Z" fill="#8d9ad9"/><path d="M718.60,577.00A58.2,58.2 0 0 1 735.65,535.85L745.40,545.60A44.4,44.4 0 0 0 732.40,577.00Z" fill="#f56a60"/><path d="M735.65,535.85A58.2,58.2 0 0 1 776.80,518.80L776.80,532.60A44.4,44.4 0 0 0 745.40,545.60Z" fill="#f79a94"/></g></svg><!--/DONUT-->
<div class="lg" style="left:587.5px;top:528px;letter-spacing:-0.15px"><i style="background:#4340c2"></i>Current Loans</div>
<div class="lg" style="left:587.5px;top:546px"><i style="background:#8d9ad9"></i>1 -10 Days Past Due</div>
<div class="lg" style="left:587.5px;top:564px"><i style="background:#dce3f8"></i>11 -30 Days Past Due</div>
<div class="lg" style="left:587.5px;top:582px"><i style="background:#f56a60"></i>31 - 90 Days Past Due</div>
<div class="lg" style="left:587.5px;top:600px"><i style="background:#f79a94"></i>91 - 120 Days Past Due</div>
<div class="lg" style="left:587.5px;top:618px"><i style="background:#e0e4e7"></i>121+ Days Past Due</div>

<div class="lg" style="left:873px;top:537px"><i style="background:#4340c2"></i>$0.00 - $1,000.00</div>
<div class="lg" style="left:873px;top:555px"><i style="background:#8d9ad9"></i>$1,000.01 - $10,000.00</div>
<div class="lg" style="left:873px;top:573px"><i style="background:#f56a60"></i>$10,000.01 - $25,000.00</div>
<div class="lg" style="left:873px;top:591px"><i style="background:#f79a94"></i>$25,000.01 - $100,000.00</div>
<div class="lg" style="left:873px;top:609px"><i style="background:#e0e4e7"></i>$100,000.01+</div>

</body></html>
